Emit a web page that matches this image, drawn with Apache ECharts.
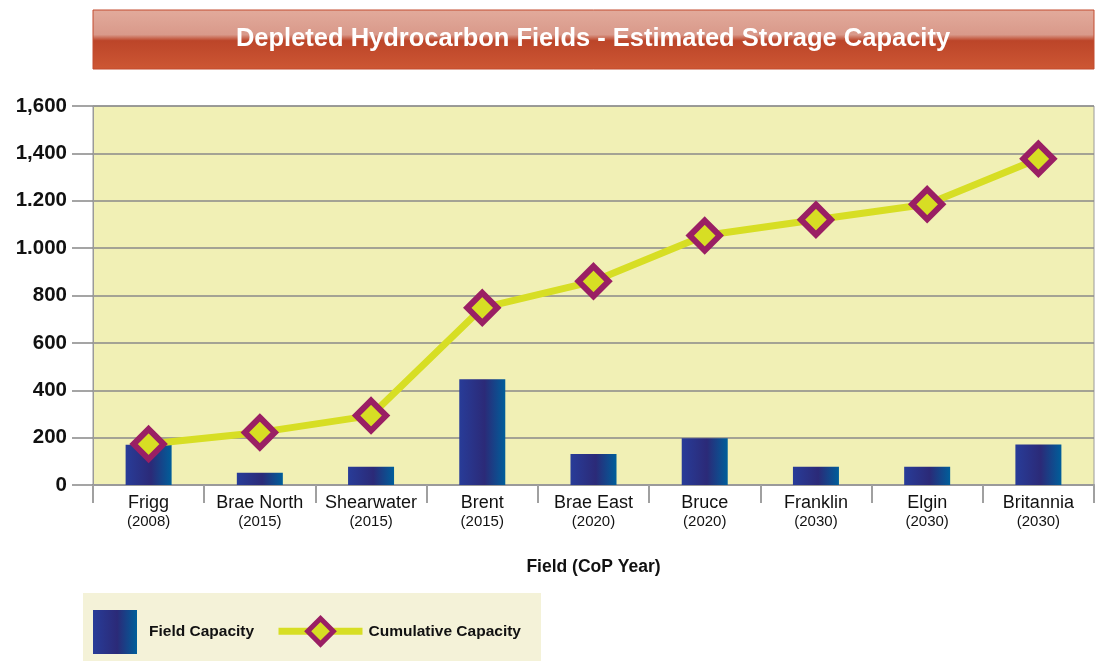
<!DOCTYPE html>
<html>
<head>
<meta charset="utf-8">
<script src="https://cdn.jsdelivr.net/npm/echarts@6/dist/echarts.min.js"></script>
<style>
html,body{margin:0;padding:0;background:#ffffff;}
#chart{width:1101px;height:661px;}
</style>
</head>
<body>
<div id="chart"></div>
<script>
// ---- data ----
var fields = ['Frigg', 'Brae North', 'Shearwater', 'Brent', 'Brae East', 'Bruce', 'Franklin', 'Elgin', 'Britannia'];
var copYears = ['(2008)', '(2015)', '(2015)', '(2015)', '(2020)', '(2020)', '(2030)', '(2030)', '(2030)'];
var fieldCapacity = [170, 52, 77, 446, 131, 197, 77, 77, 171];
var cumulativeCapacity = [173, 222, 293, 748, 860, 1053, 1120, 1185, 1377];
var yTickLabels = ['0', '200', '400', '600', '800', '1.000', '1.200', '1,400', '1,600'];

var titleText = 'Depleted Hydrocarbon Fields - Estimated Storage Capacity';
var xAxisName = 'Field (CoP Year)';
var seriesNames = ['Field Capacity', 'Cumulative Capacity'];

var FONT = '"Liberation Sans", Arial, sans-serif';

var chart = echarts.init(document.getElementById('chart'), null, {renderer: 'canvas'});

var barGradient = new echarts.graphic.LinearGradient(0, 0, 1, 0, [
  {offset: 0, color: '#283c98'},
  {offset: 0.55, color: '#2b2a78'},
  {offset: 1, color: '#005e9a'}
]);

var option = {
  backgroundColor: '#ffffff',
  animation: false,
  graphic: [
    {
      type: 'rect', z: 0, silent: true,
      shape: {x: 93, y: 10, width: 1001, height: 59},
      style: {
        fill: new echarts.graphic.LinearGradient(0, 0, 0, 1, [
          {offset: 0, color: '#e2ab9c'},
          {offset: 0.42, color: '#d9998a'},
          {offset: 0.52, color: '#bc4529'},
          {offset: 1, color: '#cd5734'}
        ]),
        stroke: '#c24a2e', lineWidth: 1
      }
    },
    {
      type: 'rect', z: 0, silent: true,
      shape: {x: 83, y: 593, width: 458, height: 68},
      style: {fill: '#f4f2d8'}
    }
  ],
  title: {
    text: titleText,
    left: 593,
    top: 26,
    padding: 0,
    textAlign: 'center',
    z: 10,
    textStyle: {
      color: '#ffffff',
      fontFamily: FONT,
      fontWeight: 'bold',
      fontSize: 25.5
    }
  },
  legend: [
    {
      data: [seriesNames[0]],
      left: 93, top: 610,
      padding: 0,
      icon: 'rect',
      itemWidth: 44, itemHeight: 44,
      textStyle: {
        color: '#111111', fontWeight: 'bold', fontSize: 15.5,
        fontFamily: FONT,
        padding: [0, 0, 0, 7]
      }
    },
    {
      data: [seriesNames[1]],
      left: 275, top: 616,
      padding: 0,
      itemWidth: 84, itemHeight: 32,
      lineStyle: {width: 7, color: '#d7de24'},
      itemStyle: {color: '#d7de24', borderColor: '#9a1f64', borderWidth: 5},
      textStyle: {
        color: '#111111', fontWeight: 'bold', fontSize: 15.5,
        fontFamily: FONT,
        padding: [0, 0, 0, 1]
      }
    }
  ],
  grid: {
    left: 93, right: 7, top: 106, bottom: 176,
    show: true,
    backgroundColor: '#f1f0b5',
    borderColor: '#9a9a9a',
    borderWidth: 1
  },
  xAxis: {
    type: 'category',
    data: fields,
    name: xAxisName,
    nameLocation: 'middle',
    nameGap: 73,
    nameTextStyle: {
      color: '#111111', fontWeight: 'bold', fontSize: 17.5,
      fontFamily: FONT
    },
    axisLine: {show: true, lineStyle: {color: '#9a9a9a', width: 2}},
    axisTick: {show: true, length: 18, lineStyle: {color: '#a0a0a0', width: 2}},
    axisLabel: {
      margin: 8,
      interval: 0,
      formatter: function (v, i) {
        return '{n|' + v + '}\n{y|' + copYears[i] + '}';
      },
      rich: {
        n: {fontSize: 18, color: '#111111', lineHeight: 20, fontFamily: FONT},
        y: {fontSize: 15, color: '#111111', lineHeight: 18, fontFamily: FONT}
      }
    }
  },
  yAxis: {
    type: 'value',
    min: 0, max: 1600, interval: 200,
    axisLine: {show: true, lineStyle: {color: '#9a9a9a', width: 1}},
    axisTick: {show: true, length: 21, lineStyle: {color: '#888888', width: 1.5}},
    splitLine: {show: true, lineStyle: {color: '#8a8a8a', width: 1.5}},
    axisLabel: {
      margin: 26,
      color: '#111111',
      fontWeight: 'bold',
      fontSize: 20.5,
      fontFamily: FONT,
      formatter: function (v) {
        return yTickLabels[Math.round(v / 200)];
      }
    }
  },
  series: [
    {
      name: seriesNames[0],
      type: 'bar',
      data: fieldCapacity,
      barWidth: 46,
      itemStyle: {color: barGradient},
      z: 2
    },
    {
      name: seriesNames[1],
      type: 'line',
      data: cumulativeCapacity,
      symbol: 'diamond',
      symbolSize: 30,
      lineStyle: {color: '#d7de24', width: 7},
      itemStyle: {color: '#d7de24', borderColor: '#9a1f64', borderWidth: 6},
      z: 5
    }
  ]
};

chart.setOption(option);
</script>
</body>
</html>
